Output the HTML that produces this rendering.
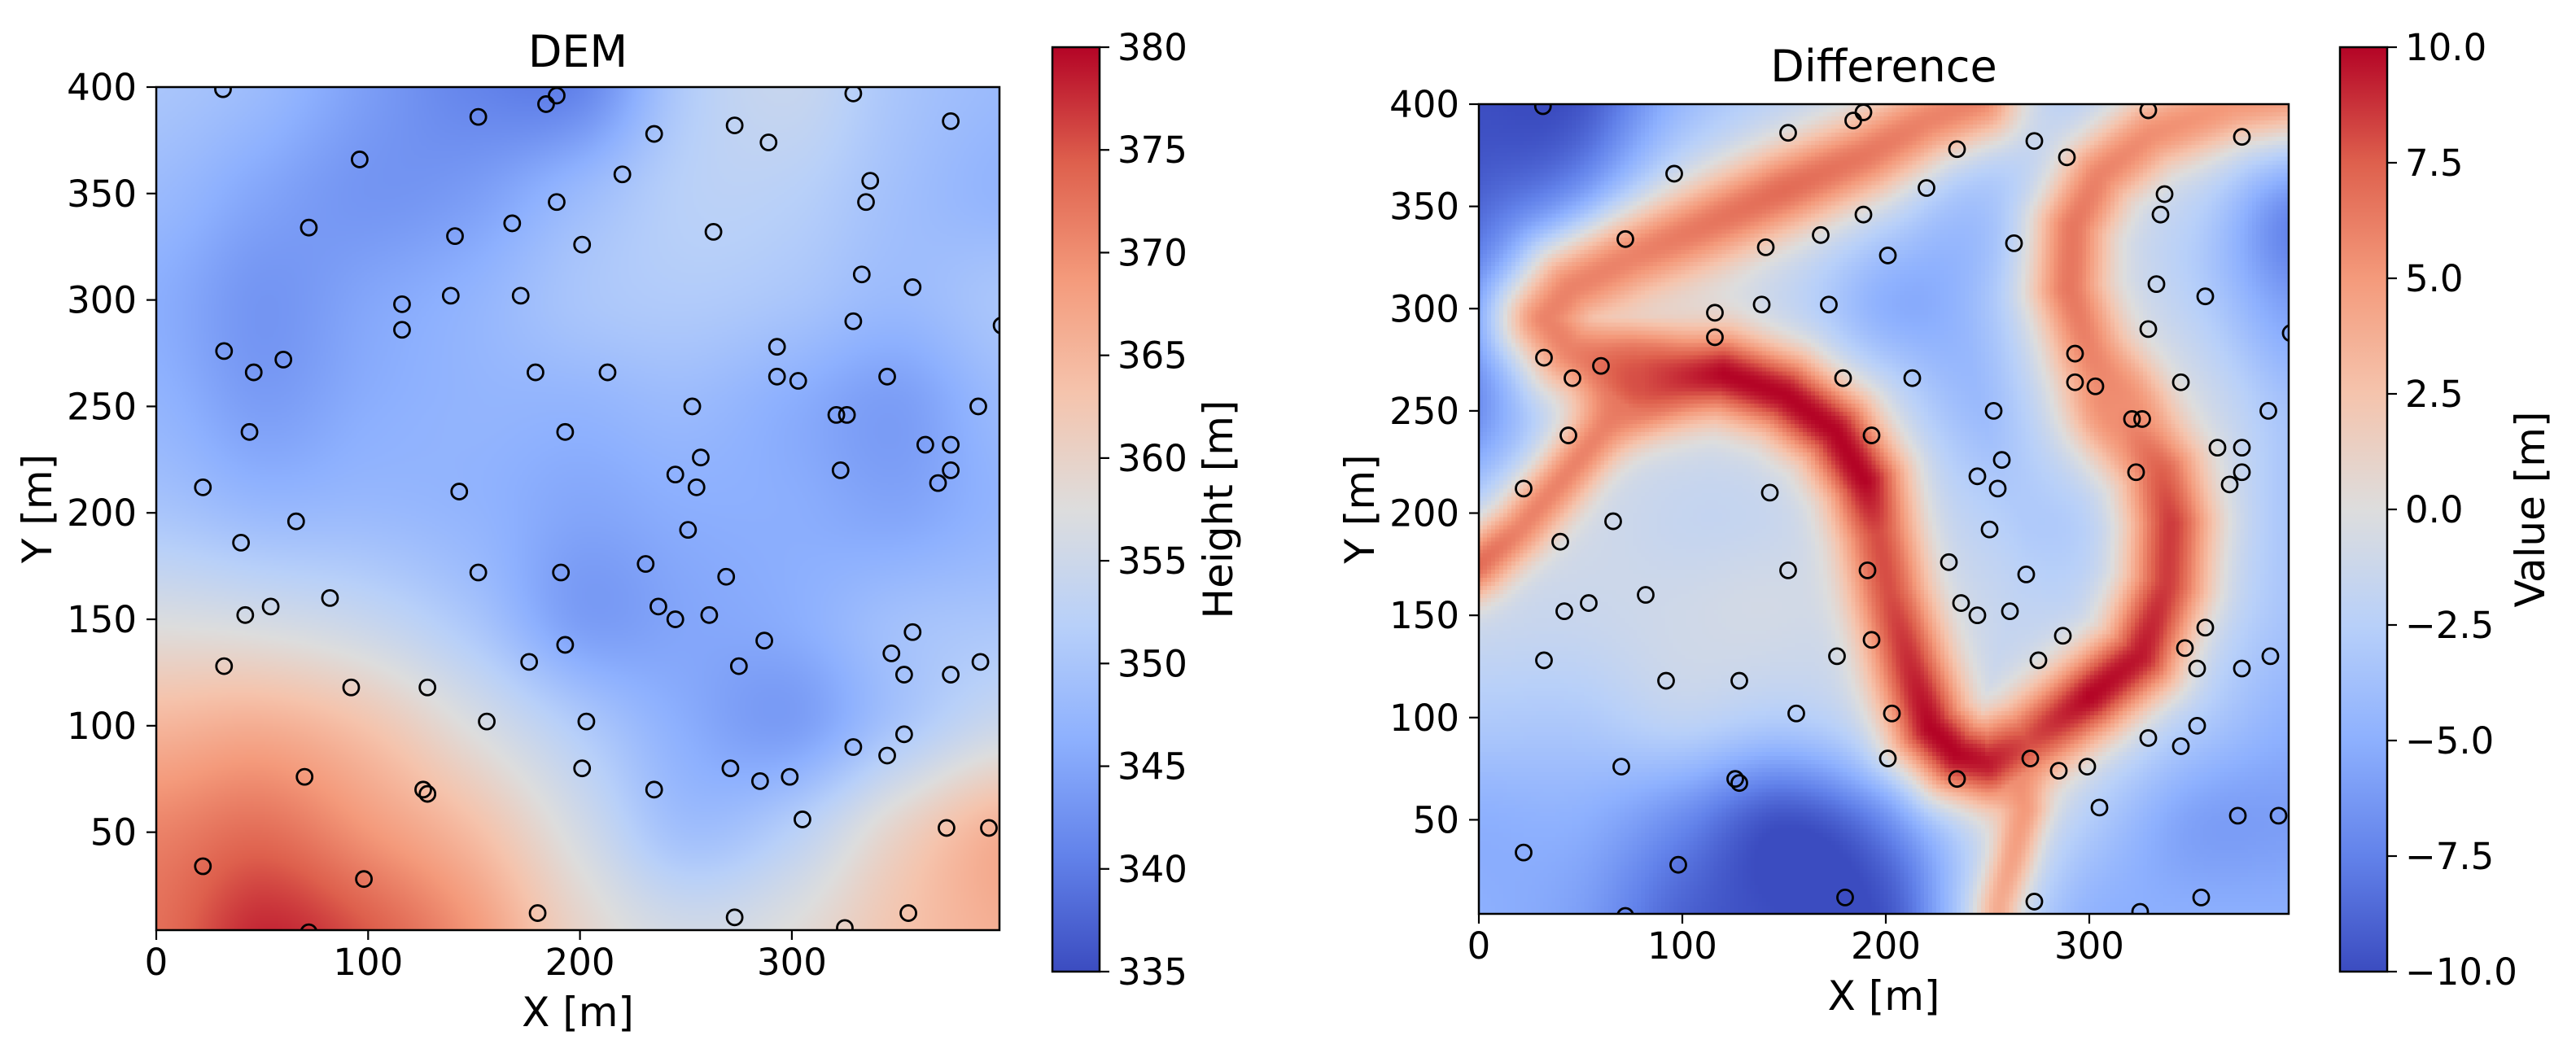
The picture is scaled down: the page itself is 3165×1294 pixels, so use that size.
<!DOCTYPE html>
<html><head><meta charset="utf-8"><style>
html,body{margin:0;padding:0;background:#fff;}
#root{position:relative;width:3165px;height:1294px;overflow:hidden;font-family:"Liberation Sans","DejaVu Sans",sans-serif;}
canvas{position:absolute;}
svg{position:absolute;left:0;top:0;}
text{font-family:"DejaVu Sans","Liberation Sans",sans-serif;fill:#000;}
</style></head><body>
<div id="root">
<canvas id="demCanvas" style="left:192px;top:107px;width:1036px;height:1036px;"></canvas>
<canvas id="diffCanvas" style="left:1817px;top:128px;width:995px;height:995px;image-rendering:pixelated;"></canvas>
<svg id="svg" width="3165" height="1294">
<defs>
<clipPath id="clipL"><rect x="192" y="107" width="1036" height="1036"/></clipPath>
<clipPath id="clipR"><rect x="1817" y="128" width="995" height="995"/></clipPath>
<linearGradient id="cmapGrad" x1="0" y1="1" x2="0" y2="0"></linearGradient>
</defs>
<g id="gL"></g>
<g id="gR"></g>
</svg>
</div>
<script>
// ---- data ----
const sampleX = [31.5,152,184,189,329,96,235,273,289,375,220,337,335,189,72,141,168,201,263,333,357,116,116,139,172,329,399,293,32,46,60,179,213,293,303,345,253,321,326,388,44,193,257,363,375,375,369,323,245,255,22,143,66,251,40,152,191,231,269,82,42,54,237,245,261,287,193,347,357,32,176,275,353,375,389,92,128,156,203,329,353,345,201,271,285,299,70,126,128,235,305,373,393,22,98,180,273,355,72,325];
const sampleY = [399,386,392,396,397,366,378,382,374,384,359,356,346,346,334,330,336,326,332,312,306,298,286,302,302,290,288,278,276,266,272,266,266,264,262,264,250,246,246,250,238,238,226,232,232,220,214,220,218,212,212,210,196,192,186,172,172,176,170,160,152,156,156,150,152,140,138,134,144,128,130,128,124,124,130,118,118,102,102,90,96,86,80,80,74,76,76,70,68,70,56,52,52,34,28,12,10,12,3,5];
// DEM height grid (rows y=400..0 step 50, cols x=0..400 step 50)
const demRow400 = [350,348,344,341,341,351,354,350,348];
const demRow350 = [348,345,343,344,348,352,352,349,347];
const demRow300 = [346,343,345,347,350,351,350,348,350];
const demRow250 = [347,344,346,347,347,348,346,344,348];
const demRow200 = [350,348,348,347,345,346,346,345,347];
const demRow150 = [357,356,354,350,344,345,346,349,350];
const demRow100 = [365,366,363,357,351,346,344,350,355];
const demRow50  = [371,373,369,364,356,349,352,360,366];
const demRow0   = [373,378,375,369,360,356,358,363,366];
// Difference background grid
const difRow400 = [-10,-10,-5,-3,-3,-5,-4,-2,-3];
const difRow350 = [-10,-9,-3,-2,-4,-6,-3,-3,-8];
const difRow300 = [-10,-4,-1,-3,-6,-5,-2,-3,-6];
const difRow250 = [-9,-6,-3,-2,-3,-5,-3,-2,-4];
const difRow200 = [-4,-2,-2,-2,-3,-3,-4,-2,-4];
const difRow150 = [-2,-1.5,-1,-1,-3,-2,-3,-3,-4];
const difRow100 = [-3,-3,-2,-3,-3,-3,-3,-4,-5];
const difRow50  = [-5,-5,-7,-10,-9,-4,-4,-6,-6];
const difRow0   = [-5,-6,-9,-10,-10,-4,-5,-5,-5];
// Ridges of the difference field
const ridgeUpperX = [245,220,190,150,110,75,45,33,45,80];
const ridgeUpperY = [402,392,375,358,340,325,310,295,280,265];
const ridgeUpperVal = [6,6,6.5,7,6.5,6,6,6,6,7];
const ridgeMainX = [80,120,150,175,190,196,202,212,222,235,250,270,300,325,338,340,335,322,314];
const ridgeMainY = [265,268,258,240,215,190,160,125,95,82,78,88,110,130,165,195,220,240,252];
const ridgeMainVal = [8,10,10,10,10,8,8,9,10,10,9.5,8,10,9.5,8.5,8.5,7.5,6,5.5];
const ridgeRightX = [314,300,290,292,305,330,370,400];
const ridgeRightY = [252,280,310,340,365,385,400,405];
const ridgeRightVal = [5.5,6,6.5,6.5,6,5.5,5,5];
const ridgeLeftX = [80,60,40,20,0,-5];
const ridgeLeftY = [265,240,215,192,175,172];
const ridgeLeftVal = [7,6,6,6,7,7];
const ridgeSpurX = [262,268,262,256,254];
const ridgeSpurY = [82,55,30,10,-5];
const ridgeSpurVal = [6,5,4.5,4,4];
const demTicks = [335,340,345,350,355,360,365,370,375,380];
const difTicks = [-10,-7.5,-5,-2.5,0,2.5,5,7.5,10];
const xTicks = [0,100,200,300];
const yTicks = [50,100,150,200,250,300,350,400];

// ---- colormap (coolwarm) ----
const cm = [[59,76,192],[98,130,234],[141,176,254],[184,208,249],[221,221,221],[245,196,173],[244,154,123],[222,96,77],[180,4,38]];
function cmap(t){t=Math.max(0,Math.min(1,t));const f=t*8;const i=Math.min(7,Math.floor(f));const u=f-i;const a=cm[i],b=cm[i+1];return [a[0]+(b[0]-a[0])*u,a[1]+(b[1]-a[1])*u,a[2]+(b[2]-a[2])*u];}

const X0=0,X1=398,Y0=4,Y1=400;
function cr(p0,p1,p2,p3,t){return 0.5*((2*p1)+(-p0+p2)*t+(2*p0-5*p1+4*p2-p3)*t*t+(-p0+3*p1-3*p2+p3)*t*t*t);}
function gridVal(rows,x,y){
  const gx=x/50, gy=(400-y)/50;
  const ix=Math.floor(gx), iy=Math.floor(gy), fx=gx-ix, fy=gy-iy;
  const g=(r,c)=>rows[Math.max(0,Math.min(8,r))][Math.max(0,Math.min(8,c))];
  const col=[];
  for(let r=-1;r<=2;r++){col.push(cr(g(iy+r,ix-1),g(iy+r,ix),g(iy+r,ix+1),g(iy+r,ix+2),fx));}
  return cr(col[0],col[1],col[2],col[3],fy);
}
// DEM
(function(){
  const rows=[demRow400,demRow350,demRow300,demRow250,demRow200,demRow150,demRow100,demRow50,demRow0];
  const c=document.getElementById('demCanvas');const N=518;c.width=N;c.height=N;
  const ctx=c.getContext('2d');const im=ctx.createImageData(N,N);
  for(let j=0;j<N;j++)for(let i=0;i<N;i++){
    const x=X0+(i+0.5)/N*(X1-X0), y=Y1-(j+0.5)/N*(Y1-Y0);
    const v=gridVal(rows,x,y);const col=cmap((v-335)/45);const k=(j*N+i)*4;
    im.data[k]=col[0];im.data[k+1]=col[1];im.data[k+2]=col[2];im.data[k+3]=255;}
  ctx.putImageData(im,0,0);
})();
// Difference
(function(){
  const rows=[difRow400,difRow350,difRow300,difRow250,difRow200,difRow150,difRow100,difRow50,difRow0];
  const ridges=[[ridgeUpperX,ridgeUpperY,ridgeUpperVal,21],[ridgeMainX,ridgeMainY,ridgeMainVal,21],[ridgeRightX,ridgeRightY,ridgeRightVal,19],[ridgeLeftX,ridgeLeftY,ridgeLeftVal,15],[ridgeSpurX,ridgeSpurY,ridgeSpurVal,11]];
  const c=document.getElementById('diffCanvas');const N=200;c.width=N;c.height=N;
  const ctx=c.getContext('2d');const im=ctx.createImageData(N,N);
  for(let j=0;j<N;j++)for(let i=0;i<N;i++){
    const x=X0+(i+0.5)/N*(X1-X0), y=Y1-(j+0.5)/N*(Y1-Y0);
    let v=gridVal(rows,x,y);
    const cores=[];
    for(const [rx,ry,rv,w] of ridges){
      let best=1e9,bv=0;
      for(let s=0;s<rx.length-1;s++){
        const ax=rx[s],ay=ry[s],bx=rx[s+1],by=ry[s+1];
        const dx=bx-ax,dy=by-ay;let t=((x-ax)*dx+(y-ay)*dy)/(dx*dx+dy*dy);t=Math.max(0,Math.min(1,t));
        const px=ax+t*dx-x,py=ay+t*dy-y;const d=px*px+py*py;
        if(d<best){best=d;bv=rv[s]+(rv[s+1]-rv[s])*t;}
      }
      const h=Math.exp(-best/(2.3*w*2.3*w));
      if(v<0) v=v*(1-0.6*h);
      cores.push([best,bv,w]);
    }
    for(const [best,bv,w] of cores){
      const g=Math.exp(-best/(w*w));
      if(bv>v) v=v+(bv-v)*g;
    }
    const col=cmap((v+10)/20);const k=(j*N+i)*4;
    im.data[k]=col[0];im.data[k+1]=col[1];im.data[k+2]=col[2];im.data[k+3]=255;}
  ctx.putImageData(im,0,0);
})();

// ---- SVG overlay ----
const NS='http://www.w3.org/2000/svg';
function mk(tag,attrs,parent){const e=document.createElementNS(NS,tag);for(const k in attrs)e.setAttribute(k,attrs[k]);parent.appendChild(e);return e;}
const grad=document.getElementById('cmapGrad');
for(let s=0;s<=8;s++){const c=cm[s];mk('stop',{offset:(s/8*100)+'%','stop-color':'rgb('+c.join(',')+')'},grad);}

function panel(g,L,T,S,clip,title,titleY,cbX,cbTicks,cbMin,cbMax,cbLabel,cbFmt,prefix,cbLabelOff){
  const sx=v=>L+(v-X0)/(X1-X0)*S, sy=v=>T+(Y1-v)/(Y1-Y0)*S;
  const mg=mk('g',{'clip-path':'url(#'+clip+')'},g);
  
  
  for(let i=0;i<sampleX.length;i++){
    const c=mk('circle',{cx:sx(sampleX[i]),cy:sy(sampleY[i]),r:9.5,fill:'none',stroke:'#000','stroke-width':2.8},mg);
    
    
  }
  const fr=mk('rect',{x:L,y:T,width:S,height:S,fill:'none',stroke:'#000','stroke-width':2.5},g);
  
  
  for(const t of xTicks){
    mk('line',{x1:sx(t),x2:sx(t),y1:T+S,y2:T+S+12,stroke:'#000','stroke-width':2.2},g);
    const tx=mk('text',{x:sx(t),y:T+S+55,'font-size':45,'text-anchor':'middle'},g);tx.textContent=t;
    
    
  }
  for(const t of yTicks){
    mk('line',{x1:L-12,x2:L,y1:sy(t),y2:sy(t),stroke:'#000','stroke-width':2.2},g);
    const ty=mk('text',{x:L-24,y:sy(t)+16,'font-size':45,'text-anchor':'end'},g);ty.textContent=t;
    
    
  }
  const tt=mk('text',{x:L+S/2,y:titleY,'font-size':54,'text-anchor':'middle'},g);tt.textContent=title;
  
  
  const xl=mk('text',{x:L+S/2,y:T+S+118,'font-size':50,'text-anchor':'middle'},g);xl.textContent='X [m]';
  
  
  const yc=T+S/2, yx=L-129;
  const yl=mk('text',{x:yx,y:yc,'font-size':50,'text-anchor':'middle',transform:'rotate(-90 '+yx+' '+yc+')'},g);yl.textContent='Y [m]';
  
  
  // colorbar
  const cT=58,cB=1194,cW=58;
  const cb=mk('rect',{x:cbX,y:cT,width:cW,height:cB-cT,fill:'url(#cmapGrad)',stroke:'#000','stroke-width':2.5},g);
  
  
  const cy=v=>cB-(v-cbMin)/(cbMax-cbMin)*(cB-cT);
  for(const t of cbTicks){
    mk('line',{x1:cbX+cW,x2:cbX+cW+12,y1:cy(t),y2:cy(t),stroke:'#000','stroke-width':2.2},g);
    const ct=mk('text',{x:cbX+cW+22,y:cy(t)+16,'font-size':45},g);ct.textContent=cbFmt(t);
    
    
  }
  const lx=cbX+cW+cbLabelOff, ly=(cT+cB)/2;
  const cl=mk('text',{x:lx,y:ly,'font-size':50,'text-anchor':'middle',transform:'rotate(-90 '+lx+' '+ly+')'},g);cl.textContent=cbLabel;
  
  
}
panel(document.getElementById('gL'),192,107,1036,'clipL','DEM',82,1293,demTicks,335,380,'Height [m]',t=>String(t),'dem',163);
panel(document.getElementById('gR'),1817,128,995,'clipR','Difference',100,2875,difTicks,-10,10,'Value [m]',t=>(t<0?'\u2212':'')+Math.abs(t).toFixed(1),'difference',193);
</script>
</body></html>
